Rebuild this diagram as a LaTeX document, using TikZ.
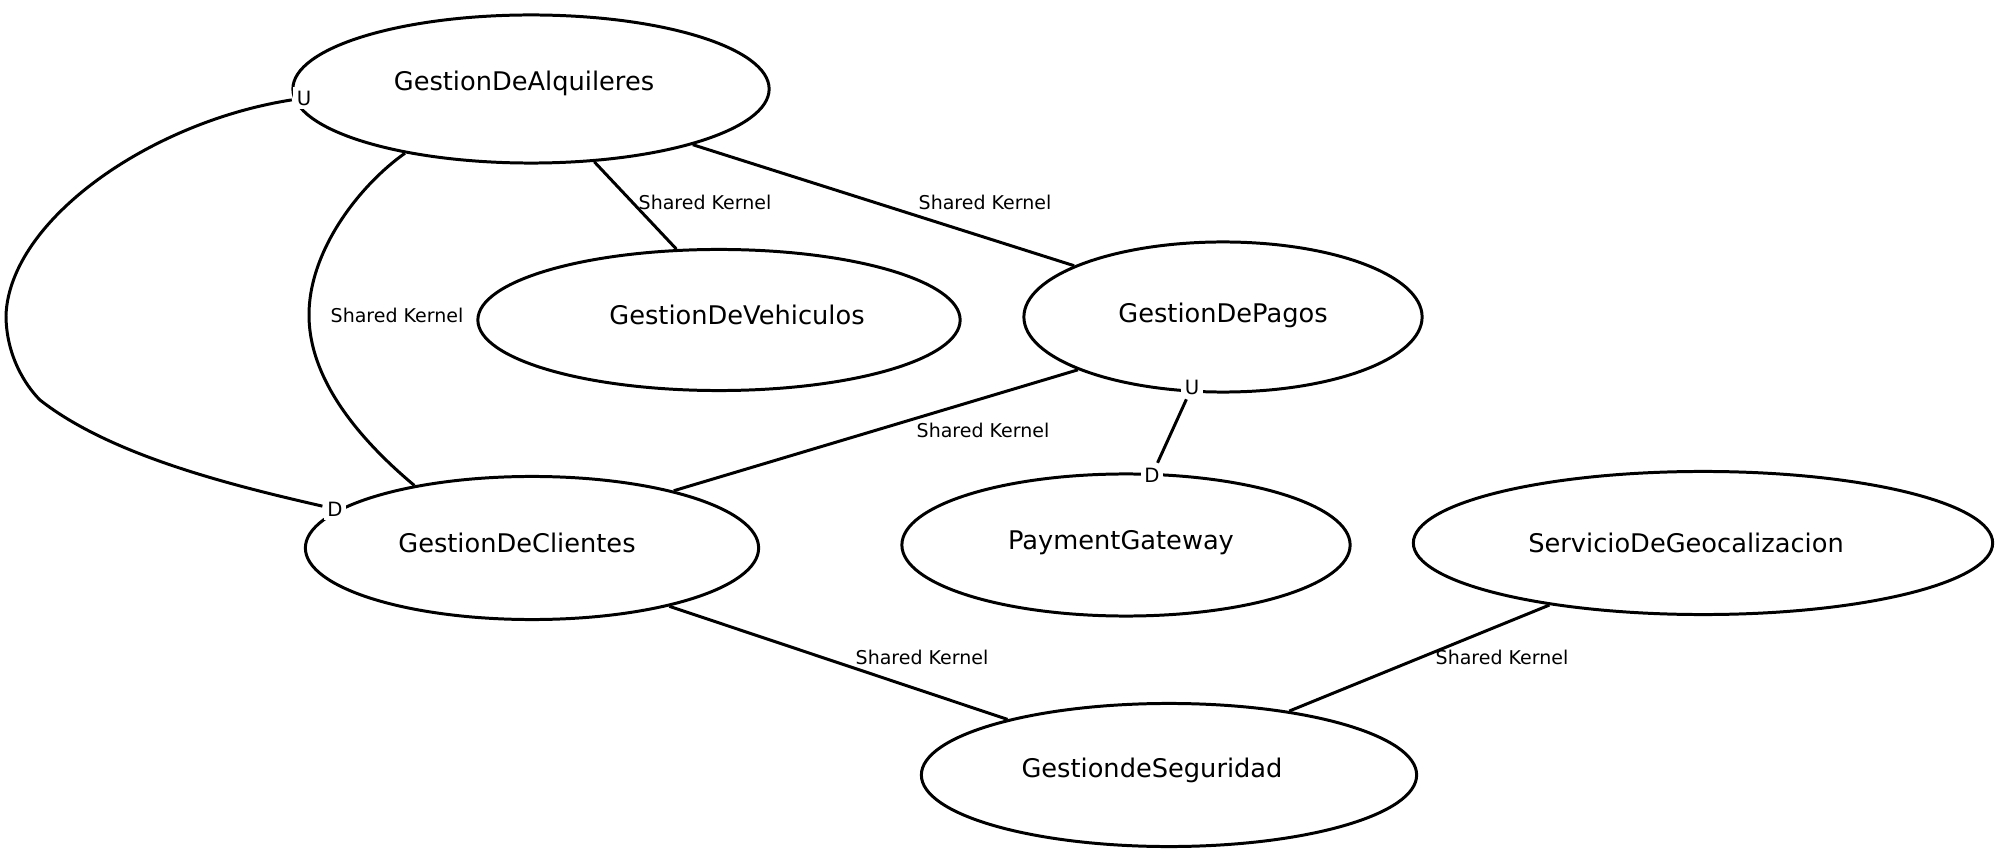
\documentclass[tikz,border=0pt]{standalone}
\usepackage{fontspec}
\setmainfont{DejaVu Sans}
\usetikzlibrary{shapes.geometric}

\begin{document}
\begin{tikzpicture}[x=0.01cm, y=-0.01cm, line width=0.85pt,
	ctx/.style={ellipse, draw, inner sep=0pt},
	ctxtext/.style={inner sep=0pt, font=\fontsize{7.3}{8}\selectfont},
	rel/.style={inner sep=0pt, font=\fontsize{5.4}{6}\selectfont},
	ud/.style={fill=white, inner sep=1pt, font=\fontsize{5.6}{6}\selectfont}]
	\useasboundingbox (0,0) rectangle (2000,855);
	% bounded contexts
	\node[ctx, minimum width=4.76cm, minimum height=1.48cm,
		label={[ctxtext, xshift=-0.07cm, yshift=0.06cm]center:GestionDeAlquileres}] (alq) at (531,89) {};
	\node[ctx, minimum width=4.82cm, minimum height=1.41cm,
		label={[ctxtext, xshift=0.18cm, yshift=0.05cm]center:GestionDeVehiculos}] (veh) at (719,320) {};
	\node[ctx, minimum width=3.98cm, minimum height=1.50cm,
		label={[ctxtext, yshift=0.02cm]center:GestionDePagos}] (pag) at (1223,317) {};
	\node[ctx, minimum width=4.53cm, minimum height=1.43cm,
		label={[ctxtext, xshift=-0.15cm, yshift=0.05cm]center:GestionDeClientes}] (cli) at (532,548) {};
	\node[ctx, minimum width=4.48cm, minimum height=1.42cm,
		label={[ctxtext, xshift=-0.05cm, yshift=0.02cm]center:PaymentGateway}] (pgw) at (1126,545) {};
	\node[ctx, minimum width=5.79cm, minimum height=1.43cm,
		label={[ctxtext, xshift=-0.17cm]center:ServicioDeGeocalizacion}] (geo) at (1703,543) {};
	\node[ctx, minimum width=4.95cm, minimum height=1.43cm,
		label={[ctxtext, xshift=-0.17cm, yshift=0.05cm]center:GestiondeSeguridad}] (seg) at (1169,775) {};
	% upstream / downstream
	\node[ud] (u1) at (304,98) {U};
	\node[ud] (d1) at (335,509) {D};
	\node[ud] (u2) at (1192,387) {U};
	\node[ud] (d2) at (1152,475) {D};
	% relations
	\draw (alq.-49) -- (veh.121);
	\draw (alq.-19) -- (pag.161);
	\draw (alq.207) .. controls (360,185) and (309,250) .. (309,315)
		.. controls (309,380) and (360,440) .. (cli.152);
	\draw (u1) .. controls (150,122) and (10,220) .. (6,315)
		.. controls (6,355) and (25,385) .. (40,400)
		.. controls (110,455) and (230,485) .. (d1);
	\draw (pag.200) -- (cli.22);
	\draw (u2) -- (d2);
	\draw (cli.-23) -- (seg.161);
	\draw (geo.202) -- (seg.28);
	% labels
	\node[rel] (k1) at (705,202) {Shared Kernel};
	\node[rel] (k2) at (985,202) {Shared Kernel};
	\node[rel] (k3) at (397,315) {Shared Kernel};
	\node[rel] (k4) at (983,430) {Shared Kernel};
	\node[rel] (k5) at (922,657) {Shared Kernel};
	\node[rel] (k6) at (1502,657) {Shared Kernel};
\end{tikzpicture}
\end{document}
